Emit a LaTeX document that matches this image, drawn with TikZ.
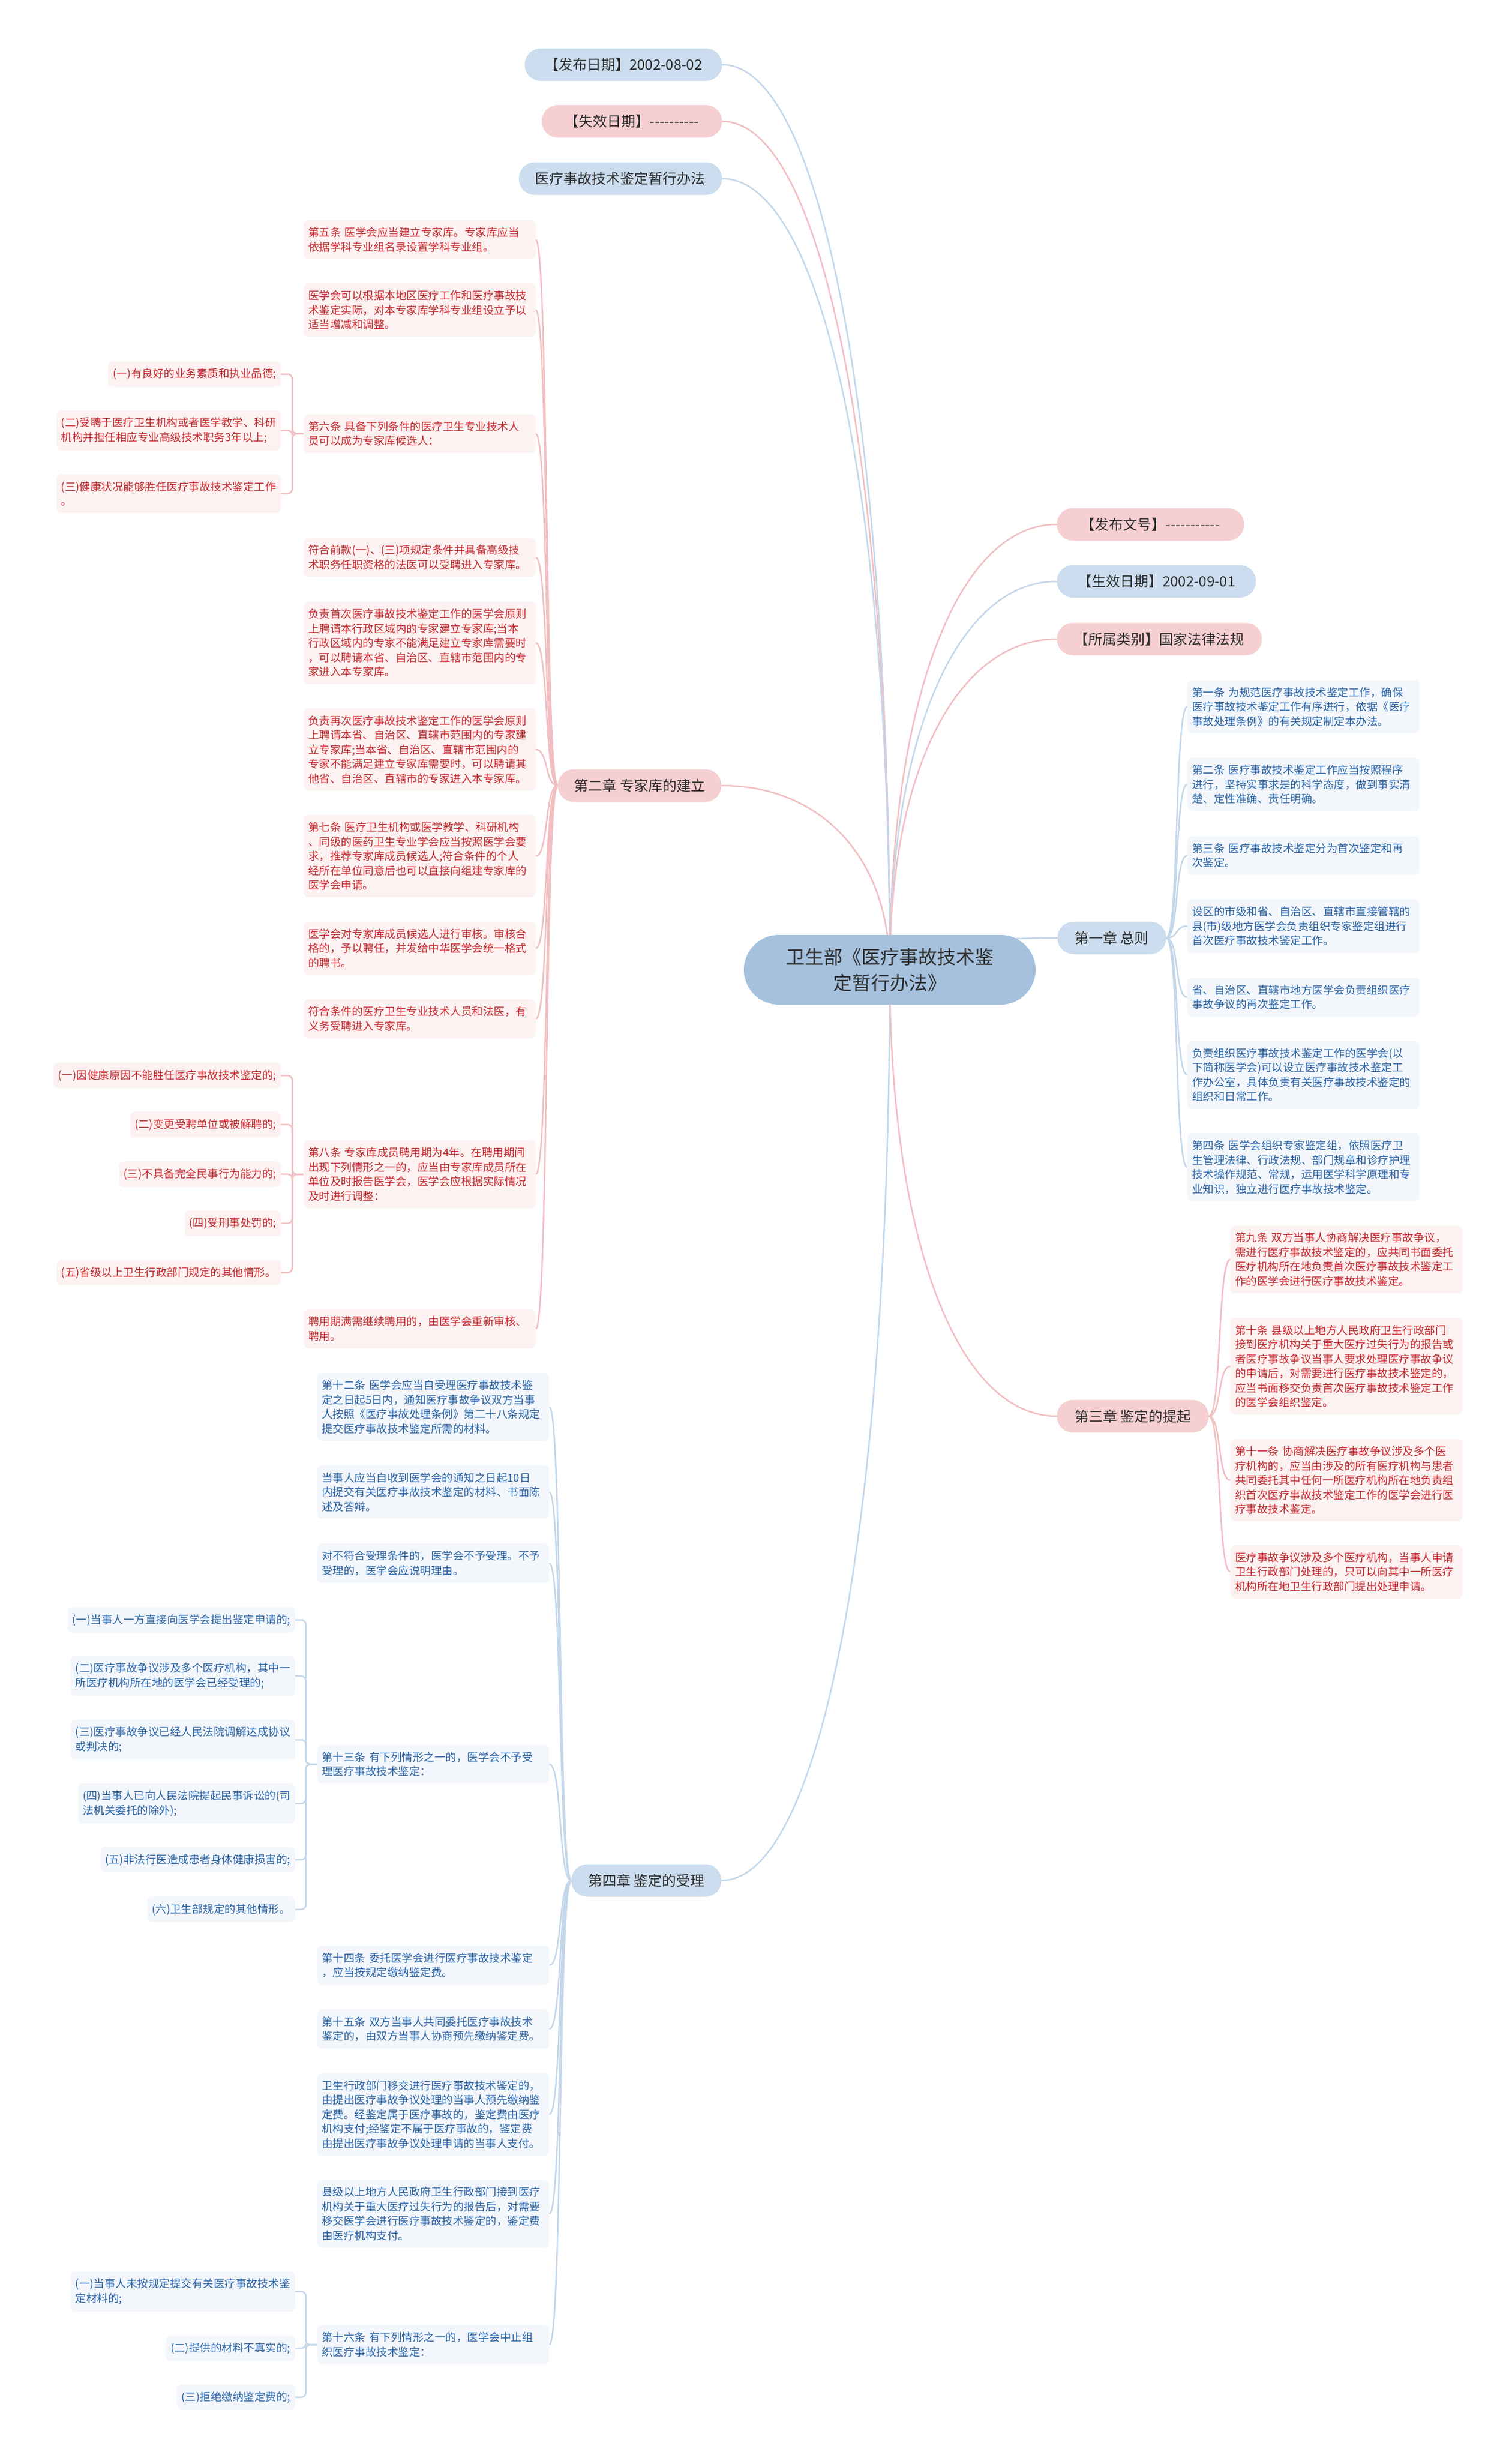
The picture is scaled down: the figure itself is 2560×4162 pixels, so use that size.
\documentclass[tikz,border=0pt]{standalone}
\usepackage{fontspec}
\setmainfont{Noto Sans CJK SC}
\usetikzlibrary{
    positioning,
    calc,
    backgrounds
}
\definecolor{rootfill}{RGB}{165,193,221}
\definecolor{pillblue}{RGB}{203,221,238}
\definecolor{pillred}{RGB}{245,207,209}
\definecolor{leafblue}{RGB}{243,247,252}
\definecolor{leafred}{RGB}{253,242,242}
\definecolor{inkblue}{RGB}{40,98,165}
\definecolor{inkred}{RGB}{196,40,44}
\definecolor{inkdark}{RGB}{45,45,45}
\definecolor{linkblue}{RGB}{196,215,234}
\definecolor{linkred}{RGB}{241,191,194}
\newcommand{\hy}{-\kern0pt}
\tikzset{
    rootnode/.style={rounded corners=59pt, fill=rootfill, text=inkdark,
        minimum width=494pt, minimum height=118pt, align=center,
        font=\fontsize{32}{44}\selectfont},
    pill/.style={rounded corners=27pt, minimum height=55pt, inner xsep=24pt,
        text=inkdark, font=\fontsize{24}{28}\selectfont},
    bluepill/.style={pill, fill=pillblue},
    redpill/.style={pill, fill=pillred},
    leaf/.style={rounded corners=8pt, inner xsep=8pt, inner ysep=12pt,
        text width=377pt, align=left, font=\fontsize{18.5}{24.5}\selectfont},
    blueleaf/.style={leaf, fill=leafblue, text=inkblue},
    redleaf/.style={leaf, fill=leafred, text=inkred},
    item/.style={rounded corners=8pt, inner xsep=8pt, inner ysep=12pt,
        align=left, font=\fontsize{18.5}{24.5}\selectfont},
    blueitem/.style={item, fill=leafblue, text=inkblue},
    reditem/.style={item, fill=leafred, text=inkred},
    bluelink/.style={draw=linkblue, line width=2.5pt},
    redlink/.style={draw=linkred, line width=2.5pt},
    rootlink/.style={to path={.. controls ($(\tikztostart)!0.6!(\tikztostart |- \tikztotarget)$)
        and ($(\tikztotarget)!0.6!(\tikztostart |- \tikztotarget)$) .. (\tikztotarget)}},
    leftbranch/.style={to path={.. controls +(-22,0) and +(22,0) .. (\tikztotarget)}},
    rightbranch/.style={to path={.. controls +(22,0) and +(-22,0) .. (\tikztotarget)}},
    elbow/.style={rounded corners=8pt}
}
\begin{document}
\begin{tikzpicture}[x=1pt, y=1pt]
    \useasboundingbox (0,0) rectangle (2560,-4162);

    %% Root and main branches
    \node[rootnode] (root) at (1507,-1642) {卫生部《医疗事故技术鉴\\定暂行办法》};
    \node[bluepill, anchor=east, minimum width=334pt] (pubdate) at (1223,-109.5) {【发布日期】2002-08-02};
    \node[redpill, anchor=east, minimum width=305pt] (expdate) at (1223,-205.5) {【失效日期】\hy\hy\hy\hy\hy\hy\hy\hy\hy\hy};
    \node[bluepill, anchor=east, minimum width=344pt] (title) at (1223,-302.5) {医疗事故技术鉴定暂行办法};
    \node[redpill, anchor=east, minimum width=277pt] (ch2) at (1222,-1330) {第二章 专家库的建立};
    \node[bluepill, anchor=east, minimum width=254pt] (ch4) at (1222,-3184) {第四章 鉴定的受理};
    \node[redpill, anchor=west, minimum width=317pt] (docno) at (1790,-888) {【发布文号】\hy\hy\hy\hy\hy\hy\hy\hy\hy\hy\hy};
    \node[bluepill, anchor=west, minimum width=337pt] (effdate) at (1790,-984.5) {【生效日期】2002-09-01};
    \node[redpill, anchor=west, minimum width=347pt] (category) at (1790,-1082) {【所属类别】国家法律法规};
    \node[bluepill, anchor=west, minimum width=184pt] (ch1) at (1791,-1588) {第一章 总则};
    \node[redpill, anchor=west, minimum width=257pt] (ch3) at (1790,-2398) {第三章 鉴定的提起};

    %% Chapter 2
    \node[redleaf, anchor=west] (ch2a) at (514,-406) {第五条 医学会应当建立专家库。专家库应当\\依据学科专业组名录设置学科专业组。};
    \node[redleaf, anchor=west] (ch2b) at (514,-525) {医学会可以根据本地区医疗工作和医疗事故技\\术鉴定实际，对本专家库学科专业组设立予以\\适当增减和调整。};
    \node[redleaf, anchor=west] (ch2c) at (514,-734.5) {第六条 具备下列条件的医疗卫生专业技术人\\员可以成为专家库候选人：};
    \node[reditem, anchor=east] (ch2c1) at (476,-633.5) {(一)有良好的业务素质和执业品德;};
    \node[reditem, anchor=east] (ch2c2) at (476,-729) {(二)受聘于医疗卫生机构或者医学教学、科研\\机构并担任相应专业高级技术职务3年以上;};
    \node[reditem, anchor=east] (ch2c3) at (476,-836) {(三)健康状况能够胜任医疗事故技术鉴定工作\\。};
    \node[redleaf, anchor=west] (ch2d) at (514,-944) {符合前款(一)、(三)项规定条件并具备高级技\\术职务任职资格的法医可以受聘进入专家库。};
    \node[redleaf, anchor=west] (ch2e) at (514,-1088.5) {负责首次医疗事故技术鉴定工作的医学会原则\\上聘请本行政区域内的专家建立专家库;当本\\行政区域内的专家不能满足建立专家库需要时\\，可以聘请本省、自治区、直辖市范围内的专\\家进入本专家库。};
    \node[redleaf, anchor=west] (ch2f) at (514,-1269) {负责再次医疗事故技术鉴定工作的医学会原则\\上聘请本省、自治区、直辖市范围内的专家建\\立专家库;当本省、自治区、直辖市范围内的\\专家不能满足建立专家库需要时，可以聘请其\\他省、自治区、直辖市的专家进入本专家库。};
    \node[redleaf, anchor=west] (ch2g) at (514,-1449.5) {第七条 医疗卫生机构或医学教学、科研机构\\、同级的医药卫生专业学会应当按照医学会要\\求，推荐专家库成员候选人;符合条件的个人\\经所在单位同意后也可以直接向组建专家库的\\医学会申请。};
    \node[redleaf, anchor=west] (ch2h) at (514,-1605.5) {医学会对专家库成员候选人进行审核。审核合\\格的，予以聘任，并发给中华医学会统一格式\\的聘书。};
    \node[redleaf, anchor=west] (ch2i) at (514,-1725) {符合条件的医疗卫生专业技术人员和法医，有\\义务受聘进入专家库。};
    \node[redleaf, anchor=west] (ch2j) at (514,-1988.5) {第八条 专家库成员聘用期为4年。在聘用期间\\出现下列情形之一的，应当由专家库成员所在\\单位及时报告医学会，医学会应根据实际情况\\及时进行调整：};
    \node[reditem, anchor=east] (ch2j1) at (476,-1821) {(一)因健康原因不能胜任医疗事故技术鉴定的;};
    \node[reditem, anchor=east] (ch2j2) at (476,-1904) {(二)变更受聘单位或被解聘的;};
    \node[reditem, anchor=east] (ch2j3) at (476,-1988) {(三)不具备完全民事行为能力的;};
    \node[reditem, anchor=east] (ch2j4) at (476,-2071.5) {(四)受刑事处罚的;};
    \node[reditem, anchor=east] (ch2j5) at (476,-2155) {(五)省级以上卫生行政部门规定的其他情形。};
    \node[redleaf, anchor=west] (ch2k) at (514,-2250) {聘用期满需继续聘用的，由医学会重新审核、\\聘用。};

    %% Chapter 1
    \node[blueleaf, anchor=west] (ch1a) at (2011,-1196.5) {第一条 为规范医疗事故技术鉴定工作，确保\\医疗事故技术鉴定工作有序进行，依据《医疗\\事故处理条例》的有关规定制定本办法。};
    \node[blueleaf, anchor=west] (ch1b) at (2011,-1328) {第二条 医疗事故技术鉴定工作应当按照程序\\进行，坚持实事求是的科学态度，做到事实清\\楚、定性准确、责任明确。};
    \node[blueleaf, anchor=west] (ch1c) at (2011,-1448.5) {第三条 医疗事故技术鉴定分为首次鉴定和再\\次鉴定。};
    \node[blueleaf, anchor=west] (ch1d) at (2011,-1568) {设区的市级和省、自治区、直辖市直接管辖的\\县(市)级地方医学会负责组织专家鉴定组进行\\首次医疗事故技术鉴定工作。};
    \node[blueleaf, anchor=west] (ch1e) at (2011,-1688.5) {省、自治区、直辖市地方医学会负责组织医疗\\事故争议的再次鉴定工作。};
    \node[blueleaf, anchor=west] (ch1f) at (2011,-1820) {负责组织医疗事故技术鉴定工作的医学会(以\\下简称医学会)可以设立医疗事故技术鉴定工\\作办公室，具体负责有关医疗事故技术鉴定的\\组织和日常工作。};
    \node[blueleaf, anchor=west] (ch1g) at (2011,-1976.5) {第四条 医学会组织专家鉴定组，依照医疗卫\\生管理法律、行政法规、部门规章和诊疗护理\\技术操作规范、常规，运用医学科学原理和专\\业知识，独立进行医疗事故技术鉴定。};

    %% Chapter 3
    \node[redleaf, anchor=west] (ch3a) at (2084,-2132.5) {第九条 双方当事人协商解决医疗事故争议，\\需进行医疗事故技术鉴定的，应共同书面委托\\医疗机构所在地负责首次医疗事故技术鉴定工\\作的医学会进行医疗事故技术鉴定。};
    \node[redleaf, anchor=west] (ch3b) at (2084,-2313.5) {第十条 县级以上地方人民政府卫生行政部门\\接到医疗机构关于重大医疗过失行为的报告或\\者医疗事故争议当事人要求处理医疗事故争议\\的申请后，对需要进行医疗事故技术鉴定的，\\应当书面移交负责首次医疗事故技术鉴定工作\\的医学会组织鉴定。};
    \node[redleaf, anchor=west] (ch3c) at (2084,-2506.5) {第十一条 协商解决医疗事故争议涉及多个医\\疗机构的，应当由涉及的所有医疗机构与患者\\共同委托其中任何一所医疗机构所在地负责组\\织首次医疗事故技术鉴定工作的医学会进行医\\疗事故技术鉴定。};
    \node[redleaf, anchor=west] (ch3d) at (2084,-2661.5) {医疗事故争议涉及多个医疗机构，当事人申请\\卫生行政部门处理的，只可以向其中一所医疗\\机构所在地卫生行政部门提出处理申请。};

    %% Chapter 4
    \node[blueleaf, anchor=west] (ch4a) at (537,-2382.5) {第十二条 医学会应当自受理医疗事故技术鉴\\定之日起5日内，通知医疗事故争议双方当事\\人按照《医疗事故处理条例》第二十八条规定\\提交医疗事故技术鉴定所需的材料。};
    \node[blueleaf, anchor=west] (ch4b) at (537,-2526.5) {当事人应当自收到医学会的通知之日起10日\\内提交有关医疗事故技术鉴定的材料、书面陈\\述及答辩。};
    \node[blueleaf, anchor=west] (ch4c) at (537,-2647) {对不符合受理条件的，医学会不予受理。不予\\受理的，医学会应说明理由。};
    \node[blueleaf, anchor=west] (ch4d) at (537,-2987.5) {第十三条 有下列情形之一的，医学会不予受\\理医疗事故技术鉴定：};
    \node[blueitem, anchor=east] (ch4d1) at (500,-2743) {(一)当事人一方直接向医学会提出鉴定申请的;};
    \node[blueitem, anchor=east] (ch4d2) at (500,-2838) {(二)医疗事故争议涉及多个医疗机构，其中一\\所医疗机构所在地的医学会已经受理的;};
    \node[blueitem, anchor=east] (ch4d3) at (500,-2946) {(三)医疗事故争议已经人民法院调解达成协议\\或判决的;};
    \node[blueitem, anchor=east] (ch4d4) at (500,-3054) {(四)当事人已向人民法院提起民事诉讼的(司\\法机关委托的除外);};
    \node[blueitem, anchor=east] (ch4d5) at (500,-3149) {(五)非法行医造成患者身体健康损害的;};
    \node[blueitem, anchor=east] (ch4d6) at (500,-3233) {(六)卫生部规定的其他情形。};
    \node[blueleaf, anchor=west] (ch4e) at (537,-3327.5) {第十四条 委托医学会进行医疗事故技术鉴定\\，应当按规定缴纳鉴定费。};
    \node[blueleaf, anchor=west] (ch4f) at (537,-3435.5) {第十五条 双方当事人共同委托医疗事故技术\\鉴定的，由双方当事人协商预先缴纳鉴定费。};
    \node[blueleaf, anchor=west] (ch4g) at (537,-3580) {卫生行政部门移交进行医疗事故技术鉴定的，\\由提出医疗事故争议处理的当事人预先缴纳鉴\\定费。经鉴定属于医疗事故的，鉴定费由医疗\\机构支付;经鉴定不属于医疗事故的，鉴定费\\由提出医疗事故争议处理申请的当事人支付。};
    \node[blueleaf, anchor=west] (ch4h) at (537,-3748.5) {县级以上地方人民政府卫生行政部门接到医疗\\机构关于重大医疗过失行为的报告后，对需要\\移交医学会进行医疗事故技术鉴定的，鉴定费\\由医疗机构支付。};
    \node[blueleaf, anchor=west] (ch4i) at (537,-3970) {第十六条 有下列情形之一的，医学会中止组\\织医疗事故技术鉴定：};
    \node[blueitem, anchor=east] (ch4i1) at (500,-3880) {(一)当事人未按规定提交有关医疗事故技术鉴\\定材料的;};
    \node[blueitem, anchor=east] (ch4i2) at (500,-3976) {(二)提供的材料不真实的;};
    \node[blueitem, anchor=east] (ch4i3) at (500,-4059) {(三)拒绝缴纳鉴定费的;};

    %% Edges
    \begin{scope}[on background layer]
        \fill[white] (0,0) rectangle (2560,-4162);
        \draw[bluelink, rootlink] (root.center) to (pubdate.east);
        \draw[redlink, rootlink] (root.center) to (expdate.east);
        \draw[bluelink, rootlink] (root.center) to (title.east);
        \draw[redlink, rootlink] (root.center) to (ch2.east);
        \draw[bluelink, rootlink] (root.center) to (ch4.east);
        \draw[redlink, rootlink] (root.center) to (docno.west);
        \draw[bluelink, rootlink] (root.center) to (effdate.west);
        \draw[redlink, rootlink] (root.center) to (category.west);
        \draw[bluelink, rootlink] (root.center) to (ch1.west);
        \draw[redlink, rootlink] (root.center) to (ch3.west);

        \draw[redlink, leftbranch] (ch2.west) to (ch2a.east);
        \draw[redlink, leftbranch] (ch2.west) to (ch2b.east);
        \draw[redlink, leftbranch] (ch2.west) to (ch2c.east);
        \draw[redlink, leftbranch] (ch2.west) to (ch2d.east);
        \draw[redlink, leftbranch] (ch2.west) to (ch2e.east);
        \draw[redlink, leftbranch] (ch2.west) to (ch2f.east);
        \draw[redlink, leftbranch] (ch2.west) to (ch2g.east);
        \draw[redlink, leftbranch] (ch2.west) to (ch2h.east);
        \draw[redlink, leftbranch] (ch2.west) to (ch2i.east);
        \draw[redlink, leftbranch] (ch2.west) to (ch2j.east);
        \draw[redlink, leftbranch] (ch2.west) to (ch2k.east);
        \draw[redlink, elbow] (ch2c.west) -- ++(-19,0) |- (ch2c1.east);
        \draw[redlink, elbow] (ch2c.west) -- ++(-19,0) |- (ch2c2.east);
        \draw[redlink, elbow] (ch2c.west) -- ++(-19,0) |- (ch2c3.east);
        \draw[redlink, elbow] (ch2j.west) -- ++(-19,0) |- (ch2j1.east);
        \draw[redlink, elbow] (ch2j.west) -- ++(-19,0) |- (ch2j2.east);
        \draw[redlink, elbow] (ch2j.west) -- ++(-19,0) |- (ch2j3.east);
        \draw[redlink, elbow] (ch2j.west) -- ++(-19,0) |- (ch2j4.east);
        \draw[redlink, elbow] (ch2j.west) -- ++(-19,0) |- (ch2j5.east);

        \draw[bluelink, rightbranch] (ch1.east) to (ch1a.west);
        \draw[bluelink, rightbranch] (ch1.east) to (ch1b.west);
        \draw[bluelink, rightbranch] (ch1.east) to (ch1c.west);
        \draw[bluelink, rightbranch] (ch1.east) to (ch1d.west);
        \draw[bluelink, rightbranch] (ch1.east) to (ch1e.west);
        \draw[bluelink, rightbranch] (ch1.east) to (ch1f.west);
        \draw[bluelink, rightbranch] (ch1.east) to (ch1g.west);

        \draw[redlink, rightbranch] (ch3.east) to (ch3a.west);
        \draw[redlink, rightbranch] (ch3.east) to (ch3b.west);
        \draw[redlink, rightbranch] (ch3.east) to (ch3c.west);
        \draw[redlink, rightbranch] (ch3.east) to (ch3d.west);

        \draw[bluelink, leftbranch] (ch4.west) to (ch4a.east);
        \draw[bluelink, leftbranch] (ch4.west) to (ch4b.east);
        \draw[bluelink, leftbranch] (ch4.west) to (ch4c.east);
        \draw[bluelink, leftbranch] (ch4.west) to (ch4d.east);
        \draw[bluelink, leftbranch] (ch4.west) to (ch4e.east);
        \draw[bluelink, leftbranch] (ch4.west) to (ch4f.east);
        \draw[bluelink, leftbranch] (ch4.west) to (ch4g.east);
        \draw[bluelink, leftbranch] (ch4.west) to (ch4h.east);
        \draw[bluelink, leftbranch] (ch4.west) to (ch4i.east);
        \draw[bluelink, elbow] (ch4d.west) -- ++(-19,0) |- (ch4d1.east);
        \draw[bluelink, elbow] (ch4d.west) -- ++(-19,0) |- (ch4d2.east);
        \draw[bluelink, elbow] (ch4d.west) -- ++(-19,0) |- (ch4d3.east);
        \draw[bluelink, elbow] (ch4d.west) -- ++(-19,0) |- (ch4d4.east);
        \draw[bluelink, elbow] (ch4d.west) -- ++(-19,0) |- (ch4d5.east);
        \draw[bluelink, elbow] (ch4d.west) -- ++(-19,0) |- (ch4d6.east);
        \draw[bluelink, elbow] (ch4i.west) -- ++(-19,0) |- (ch4i1.east);
        \draw[bluelink, elbow] (ch4i.west) -- ++(-19,0) |- (ch4i2.east);
        \draw[bluelink, elbow] (ch4i.west) -- ++(-19,0) |- (ch4i3.east);
    \end{scope}
\end{tikzpicture}
\end{document}
